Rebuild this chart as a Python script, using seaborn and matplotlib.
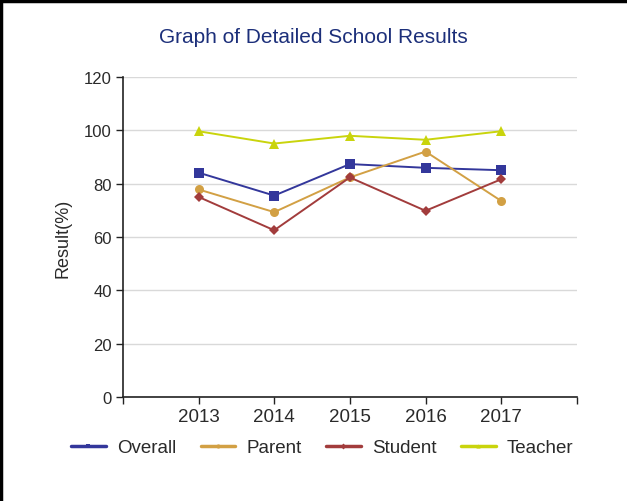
import matplotlib
matplotlib.use("Agg")
import matplotlib.pyplot as plt
from matplotlib.lines import Line2D
import seaborn as sns
import pandas as pd

years = ["2013", "2014", "2015", "2016", "2017"]
overall = [84.1, 75.5, 87.3, 85.9, 85.0]
parent = [77.8, 69.3, 82.3, 92.0, 73.5]
student = [75.0, 62.5, 82.3, 69.8, 81.6]
teacher = [99.6, 95.0, 97.9, 96.4, 99.6]

groups = ["Overall", "Parent", "Student", "Teacher"]
colors = {"Overall": "#33379b", "Parent": "#d2a044", "Student": "#a23c3c", "Teacher": "#c9d40c"}
markers = {"Overall": "s", "Parent": "o", "Student": "D", "Teacher": "^"}
msizes = {"Overall": 6.5, "Parent": 6.5, "Student": 5, "Teacher": 6.5}

df = pd.DataFrame({
    "Year": years * 4,
    "Result": overall + parent + student + teacher,
    "Group": [g for g in groups for _ in years],
})

sns.set_theme(style="white")
plt.rcParams["font.family"] = ["Liberation Sans", "DejaVu Sans"]

fig = plt.figure(figsize=(6.27, 5.02), dpi=100)
ax = fig.add_axes([0.196, 0.207, 0.724, 0.638])

for g in groups:
    sub = df[df["Group"] == g]
    sns.lineplot(data=sub, x="Year", y="Result", ax=ax, color=colors[g],
                 marker=markers[g], markersize=msizes[g], markeredgewidth=0,
                 linewidth=1.4, sort=False, legend=False)

ax.set_xlim(-1, 5)
ax.set_ylim(0, 120)
ax.set_xticks(range(-1, 6))
ax.set_xticklabels([""] + years + [""])
ax.set_yticks(range(0, 121, 20))
ax.yaxis.grid(True, color="#d9d9d9", linewidth=1)
ax.xaxis.grid(False)
ax.set_axisbelow(True)
for s in ["top", "right"]:
    ax.spines[s].set_visible(False)
for s in ["left", "bottom"]:
    ax.spines[s].set_color("#222222")
    ax.spines[s].set_linewidth(1.2)
ax.tick_params(axis="both", which="major", bottom=True, left=True, direction="out",
               length=5, width=1, color="#222222", labelcolor="#2a2a2a")
ax.tick_params(axis="x", labelsize=13.5, pad=3)
ax.tick_params(axis="y", labelsize=12, pad=3)
ax.set_xlabel("")
ax.set_ylabel("Result(%)", fontsize=13, color="#2a2a2a", labelpad=9)

fig.text(0.5, 0.926, "Graph of Detailed School Results", ha="center", va="center",
         fontsize=15, color="#1c2f7a")

handles = [Line2D([0], [0], color=colors[g], lw=2.5, marker=markers[g], markersize=3,
                  markeredgewidth=0) for g in groups]
fig.legend(handles, groups, loc="center", bbox_to_anchor=(0.514, 0.106), ncol=4,
           frameon=False, fontsize=13.5, handlelength=1.85, columnspacing=1.3,
           handletextpad=0.6, labelcolor="#2a2a2a")

# Frame lines along left and top edges
fig.add_artist(Line2D([0.002, 0.002], [0, 1], transform=fig.transFigure, color="black", lw=2.5))
fig.add_artist(Line2D([0, 1], [0.997, 0.997], transform=fig.transFigure, color="black", lw=2.5))

fig.savefig("out.png", dpi=100, facecolor="white")
